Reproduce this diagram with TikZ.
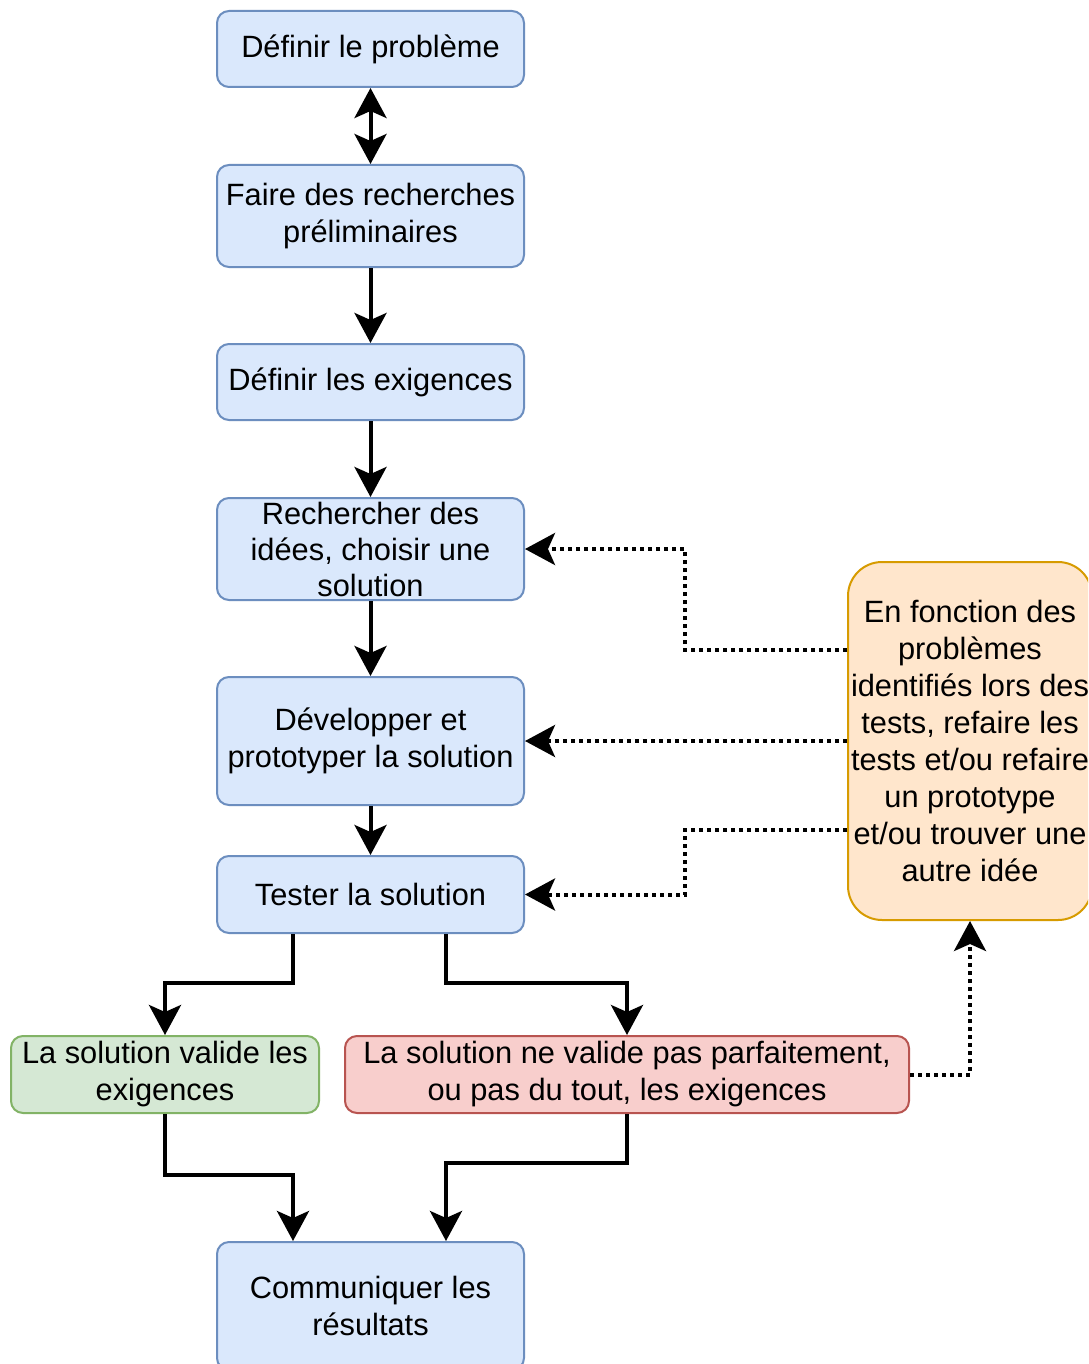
\documentclass[tikz,border=0pt]{standalone}
\usepackage{fontspec}
\setmainfont{Liberation Sans}
\usetikzlibrary{arrows.meta}
\definecolor{bluefill}{HTML}{DAE8FC}
\definecolor{bluedraw}{HTML}{6C8EBF}
\definecolor{greenfill}{HTML}{D5E8D4}
\definecolor{greendraw}{HTML}{82B366}
\definecolor{redfill}{HTML}{F8CECC}
\definecolor{reddraw}{HTML}{B85450}
\definecolor{orangefill}{HTML}{FFE6CC}
\definecolor{orangedraw}{HTML}{D79B00}
\tikzset{
  box/.style={draw, line width=2pt, rounded corners=12pt, inner sep=0pt, align=center,
    font=\fontsize{30.8}{37}\selectfont, text=black},
  bluebox/.style={box, fill=bluefill, draw=bluedraw, minimum width=307pt},
  greenbox/.style={box, fill=greenfill, draw=greendraw},
  redbox/.style={box, fill=redfill, draw=reddraw},
  orangebox/.style={box, fill=orangefill, draw=orangedraw, rounded corners=34pt},
  >={Stealth[length=30pt,width=32pt,inset=7pt]},
  arr/.style={->, line width=4pt, black},
  dotarr/.style={->, line width=4pt, black, dash pattern=on 4pt off 4pt},
}
\begin{document}
\begin{tikzpicture}[x=1pt,y=-1pt]
\clip (0,0) rectangle (1088,1364);
\fill[white] (0,0) rectangle (1088,1364);
% nodes
\node[bluebox, minimum height=76pt] (B1) at (370.5,49) {Définir le problème};
\node[bluebox, minimum height=102pt] (B2) at (370.5,216) {Faire des recherches\\préliminaires};
\node[bluebox, minimum height=76pt] (B3) at (370.5,382) {Définir les exigences};
\node[bluebox, minimum height=102pt, font=\fontsize{30.8}{36}\selectfont] (B4) at (370.5,549) {Rechercher des\\idées, choisir une\\solution};
\node[bluebox, minimum height=128pt] (B5) at (370.5,741) {Développer et\\prototyper la solution};
\node[bluebox, minimum height=77pt] (B6) at (370.5,894.5) {Tester la solution};
\node[greenbox, minimum width=308pt, minimum height=77pt] (G) at (165,1074.5) {La solution valide les\\exigences};
\node[redbox, minimum width=564pt, minimum height=77pt] (R) at (627,1074.5) {La solution ne valide pas parfaitement,\\ou pas du tout, les exigences};
\node[bluebox, minimum height=128pt] (C) at (370.5,1306) {Communiquer les\\résultats};
\node[orangebox, minimum width=244pt, minimum height=358pt] (O) at (970,741) {En fonction des\\problèmes\\identifiés lors des\\tests, refaire les\\tests et/ou refaire\\un prototype\\et/ou trouver une\\autre idée};
% junction coordinates
\coordinate (j1) at (293,983);
\coordinate (j2) at (446,983);
\coordinate (j3) at (293,1175);
\coordinate (j4) at (446,1163);
\coordinate (k1) at (685,650);
\coordinate (k3) at (685,830);
% main flow
\draw[arr, <->] (B1) -- (B2);
\draw[arr] (B2) -- (B3);
\draw[arr] (B3) -- (B4);
\draw[arr] (B4) -- (B5);
\draw[arr] (B5) -- (B6);
\draw[arr] (B6.south -| j1) -- (j1) -| (G.north);
\draw[arr] (B6.south -| j2) -- (j2) -| (R.north);
\draw[arr] (G.south) |- (j3) -- (C.north -| j3);
\draw[arr] (R.south) |- (j4) -- (C.north -| j4);
% feedback
\draw[dotarr] (R.east) -| (O.south);
\draw[dotarr] (O.west |- k1) -- (k1) |- (B4.east);
\draw[dotarr] (O.west) -- (B5.east);
\draw[dotarr] (O.west |- k3) -- (k3) |- (B6.east);
\end{tikzpicture}
\end{document}
